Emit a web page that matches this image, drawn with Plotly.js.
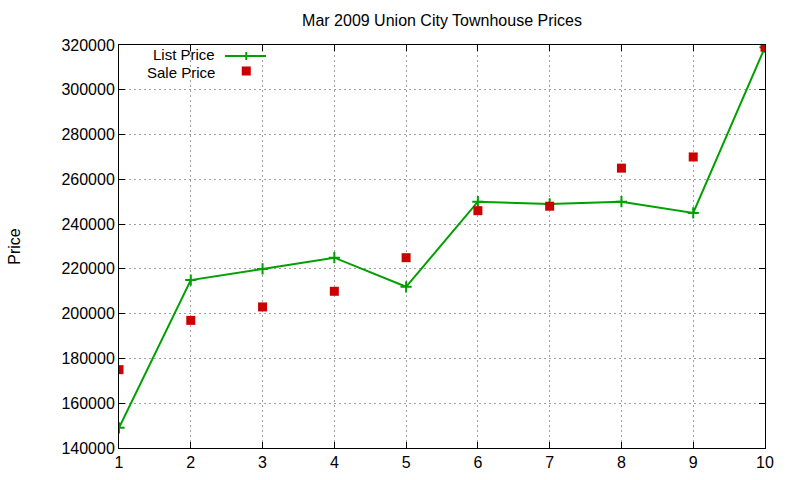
<!DOCTYPE html>
<html>
<head>
<meta charset="utf-8">
<script src="https://cdn.plot.ly/plotly-3.0.1.min.js"></script>
<style>body{margin:0;background:#fff}#chart{width:800px;height:480px}</style>
</head>
<body>
<div id="chart"></div>
<script>
const houses = [1, 2, 3, 4, 5, 6, 7, 8, 9, 10];
const listPrice = [149000, 215000, 220000, 225000, 212000, 250000, 249000, 250000, 245000, 319000];
const salePrice = [175000, 197000, 203000, 210000, 225000, 246000, 248000, 265000, 270000, 319000];
const yTicks = [140000, 160000, 180000, 200000, 220000, 240000, 260000, 280000, 300000, 320000];

const green = '#00a000';
const red = '#cc0000';
const font = 'Liberation Sans, Arial, sans-serif';
const fs = 16;

const traces = [
  {x: houses, y: listPrice, name: 'List Price', type: 'scatter', mode: 'lines+markers',
   line: {color: green, width: 2},
   marker: {symbol: 'cross-thin', size: 8, line: {color: green, width: 2}, color: green}},
  {x: houses, y: salePrice, name: 'Sale Price', type: 'scatter', mode: 'markers',
   marker: {symbol: 'square', size: 9, color: red}}
];

// legend geometry (paper coords)
const lx0 = 0.164, lx1 = 0.2276, ly1 = 0.9727, ly2 = 0.9355, lc = 0.197;
const layout = {
  width: 800, height: 480,
  margin: {l: 119, r: 35, t: 45, b: 32},
  paper_bgcolor: '#fff', plot_bgcolor: '#fff',
  showlegend: false,
  font: {family: font, size: fs, color: '#000'},
  title: {text: 'Mar 2009 Union City Townhouse Prices', font: {family: font, size: fs, color: '#000'},
          x: 0.5, xref: 'paper', y: 0.958, yref: 'container', yanchor: 'middle'},
  xaxis: {range: [1, 10], tickvals: houses, ticktext: houses.map(String),
          showgrid: true, gridcolor: '#a0a0a0', griddash: '2px,3px', gridwidth: 1,
          showline: true, linecolor: '#000', linewidth: 1, mirror: 'allticks',
          ticks: 'inside', ticklen: 6, tickcolor: '#000', zeroline: false,
          tickfont: {family: font, size: fs, color: '#000'}},
  yaxis: {range: [140000, 320000], tickvals: yTicks, ticktext: yTicks.map(String),
          showgrid: true, gridcolor: '#a0a0a0', griddash: '2px,3px', gridwidth: 1,
          showline: true, linecolor: '#000', linewidth: 1, mirror: 'allticks',
          ticks: 'inside', ticklen: 6, tickcolor: '#000', zeroline: false,
          tickfont: {family: font, size: fs, color: '#000'},
          title: {text: 'Price', font: {family: font, size: fs, color: '#000'}, standoff: 36}},
  shapes: [
    {type: 'line', xref: 'paper', yref: 'paper', x0: lx0, x1: lx1, y0: ly1, y1: ly1, line: {color: green, width: 2}},
    {type: 'line', xref: 'paper', yref: 'paper', x0: lc, x1: lc, y0: ly1 - 0.01, y1: ly1 + 0.01, line: {color: green, width: 2}},
    {type: 'rect', xref: 'paper', yref: 'paper', x0: lc - 0.007, x1: lc + 0.007, y0: ly2 - 0.0112, y1: ly2 + 0.0112,
     fillcolor: red, line: {width: 0}}
  ],
  annotations: [
    {text: 'List Price', xref: 'paper', yref: 'paper', x: 0.1517, y: 0.9752, xanchor: 'right', yanchor: 'middle',
     showarrow: false, font: {family: font, size: 15, color: '#000'}},
    {text: 'Sale Price', xref: 'paper', yref: 'paper', x: 0.1517, y: 0.9330, xanchor: 'right', yanchor: 'middle',
     showarrow: false, font: {family: font, size: 15, color: '#000'}}
  ]
};
Plotly.newPlot('chart', traces, layout, {displayModeBar: false, staticPlot: true});
</script>
</body>
</html>
